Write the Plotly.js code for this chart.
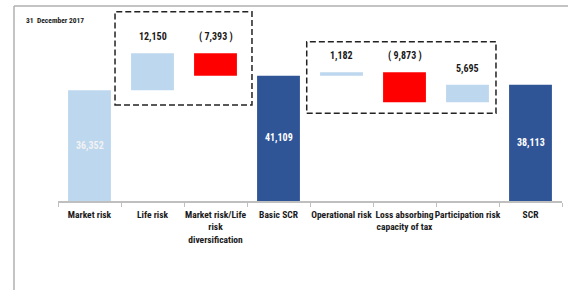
<!DOCTYPE html>
<html><head><meta charset="utf-8">
<script src="https://cdn.plot.ly/plotly-3.0.1.min.js"></script>
<style>html,body{margin:0;padding:0;background:#fff}#chart{width:568px;height:290px}</style>
</head><body><div id="chart"></div>
<script>
const categories = ["Market risk","Life risk","Market risk/Life<br>risk<br>diversification","Basic SCR","Operational risk","Loss absorbing<br>capacity of tax","Participation risk","SCR"];
const values = [36352, 12150, -7393, 41109, 1182, -9873, 5695, 38113];
const measures = ["absolute","relative","relative","total","relative","relative","relative","total"];
const labels = ["36,352","12,150","( 7,393 )","41,109","1,182","( 9,873 )","5,695","38,113"];

const LIGHT = "#BDD7EE", RED = "#FF0000", DARK = "#2F5597";
let running = 0;
const bases = [], heights = [], colors = [], tops = [];
values.forEach((v, i) => {
  const m = measures[i];
  if (m === "absolute") { bases.push(0); heights.push(v); running = v; colors.push(LIGHT); }
  else if (m === "total") { bases.push(0); heights.push(v); running = v; colors.push(DARK); }
  else {
    const start = running; running = start + v;
    bases.push(Math.min(start, running)); heights.push(Math.abs(v));
    colors.push(v < 0 ? RED : LIGHT);
  }
  tops.push(bases[i] + heights[i]);
});

const trace = {
  type: "bar", x: categories, y: heights, base: bases,
  marker: { color: colors, line: { width: 0 } },
  hoverinfo: "none", showlegend: false
};

const FONT = "Liberation Sans Narrow, Roboto Condensed, Arial Narrow, Liberation Sans, sans-serif";
const annotations = [];
values.forEach((v, i) => {
  if (measures[i] === "relative") {
    annotations.push({ x: categories[i], y: tops[i], xref: "x", yref: "y", text: labels[i], showarrow: false,
      yanchor: "bottom", yshift: 8, font: { family: FONT, size: 10, color: "#1a1a1a", weight: "bold" } });
  } else {
    annotations.push({ x: categories[i], y: tops[i] / 2, xref: "x", yref: "y", text: labels[i], showarrow: false,
      yanchor: "middle", font: { family: FONT, size: 10, color: measures[i] === "absolute" ? "#f2f2f2" : "#ffffff", weight: "bold" } });
  }
});
annotations.push({ x: -0.0675, y: 0.927, xref: "paper", yref: "paper", text: "31  December 2017", showarrow: false,
  xanchor: "left", yanchor: "middle", font: { family: FONT, size: 7.5, color: "#1a1a1a", weight: "bold" } });

const dash = { color: "#222", width: 1.5, dash: "6px,3px" };
const frame = { color: "#b0b0b0", width: 1.5 };
const shapes = [
  { type: "line", xref: "paper", yref: "paper", x0: -0.0873, x1: -0.0873, y0: 1.0, y1: -0.46, line: frame },
  { type: "line", xref: "paper", yref: "paper", x0: -0.0873, x1: 1.02, y0: 1.0, y1: 1.0, line: frame },
  { type: "rect", xref: "x", yref: "y", x0: 0.405, x1: 2.579, y0: 31517, y1: 62150, line: dash, layer: "above" },
  { type: "rect", xref: "x", yref: "y", x0: 3.448, x1: 6.452, y0: 28792, y1: 52299, line: dash, layer: "above" }
];

const layout = {
  width: 568, height: 290,
  margin: { l: 58, r: 6, t: 6, b: 89, pad: 0 },
  paper_bgcolor: "#fff", plot_bgcolor: "#fff",
  bargap: 0.32,
  xaxis: {
    type: "category", tickson: "boundaries", ticks: "outside", ticklen: 4, tickcolor: "#bfbfbf", tickwidth: 1,
    showline: true, linecolor: "#bfbfbf", linewidth: 1.5, showgrid: false, zeroline: false,
    ticklabelstandoff: 4,
    tickfont: { family: FONT, size: 9.5, color: "#1a1a1a", weight: "bold" }, tickangle: 0, automargin: false,
    fixedrange: true
  },
  yaxis: { range: [0, 64000], visible: false, showgrid: false, zeroline: false, fixedrange: true },
  annotations: annotations, shapes: shapes, showlegend: false
};
Plotly.newPlot("chart", [trace], layout, { staticPlot: true, displayModeBar: false });
</script></body></html>
